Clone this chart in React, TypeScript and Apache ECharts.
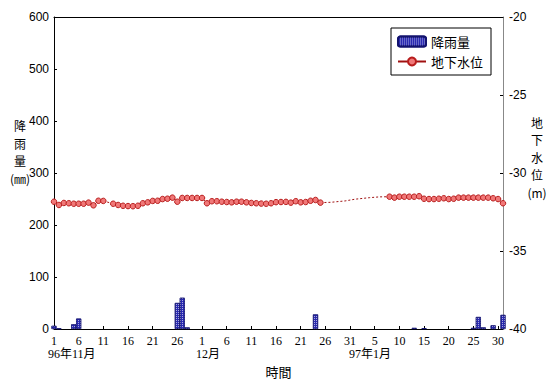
import React, { useEffect, useRef } from 'react';
import * as echarts from 'echarts';

// Day index: 0 = 1996-11-01 ... 91 = 1997-01-31
const rainDays = [0, 1, 4, 5, 25, 26, 27, 53, 73, 75, 85, 86, 87, 89, 91];
const rainValues = [6, 1, 9, 20, 50, 60, 3, 28, 2, 1.5, 2, 23, 3, 7, 27];

const gwLevel: (number | null)[] = [
  -31.84, -32.05, -31.92, -31.94, -31.97, -31.97, -31.97, -31.9, -32.07, -31.78,
  -31.79, null, -31.97, -32.05, -32.1, -32.12, -32.13, -32.1, -31.94, -31.88,
  -31.79, -31.78, -31.67, -31.65, -31.58, -31.84, -31.6, -31.6, -31.6, -31.6,
  -31.6, -31.94, -31.81, -31.81, -31.84, -31.86, -31.88, -31.84, -31.84, -31.88,
  -31.92, -31.94, -31.96, -31.97, -31.94, -31.87, -31.86, -31.85, -31.9, -31.81,
  -31.88, -31.86, -31.78, -31.73, -31.9,
  null, null, null, null, null, null, null, null, null, null, null, null, null,
  -31.52, -31.58, -31.52, -31.52, -31.52, -31.52, -31.49, -31.65, -31.67, -31.67,
  -31.65, -31.62, -31.67, -31.65, -31.58, -31.58, -31.58, -31.58, -31.58, -31.58,
  -31.58, -31.62, -31.67, -31.94,
];

const shortGapDays = [10, 12];
const shortGapLevels = [-31.79, -31.97];
const longGapDays = [54, 56, 59, 61, 64, 66, 68];
const longGapLevels = [-31.9, -31.88, -31.79, -31.68, -31.58, -31.53, -31.52];

const monthLabelDays = [0, 30, 61];
const monthLabelTexts = ['96年11月', '12月', '97年1月'];

const leftAxisNameLines = ['降', '雨', '量', '(㎜)'];
const rightAxisNameLines = ['地', '下', '水', '位', '(m)'];

const CJK = '"Noto Sans CJK TC", "Noto Sans CJK JP", sans-serif';
const SERIF = '"Liberation Serif", "DejaVu Serif", serif';
const SANS = '"Liberation Sans", Arial, sans-serif';

function dayLabel(d: number): string {
  if (d < 30) return String(d + 1);
  if (d < 61) return String(d - 29);
  return String(d - 60);
}

export default function App() {
  const ref = useRef<HTMLDivElement>(null);
  useEffect(() => {
    if (!ref.current) return;
    const chart = echarts.init(ref.current, null, { renderer: 'svg' });
    const option: any = {
      animation: false,
      backgroundColor: '#fff',
      grid: { left: 54, right: 46, top: 17, bottom: 56 },
      legend: {
        orient: 'vertical',
        left: 391,
        top: 28,
        data: ['降雨量', '地下水位'],
        borderColor: '#000',
        borderWidth: 1,
        backgroundColor: '#fff',
        padding: [7, 8, 7, 6],
        itemGap: 7,
        itemWidth: 28,
        itemHeight: 10,
        textStyle: { fontFamily: CJK, fontSize: 13, color: '#000' },
      },
      xAxis: [
        {
          type: 'value',
          min: 0,
          max: 91,
          interval: 5,
          position: 'bottom',
          axisLine: { show: true, onZero: false, lineStyle: { color: '#000' } },
          axisTick: { show: true, inside: true, length: 3, lineStyle: { color: '#000' } },
          axisLabel: {
            formatter: (v: number) => dayLabel(v),
            showMaxLabel: false,
            margin: 6,
            fontFamily: SERIF,
            fontSize: 12,
            color: '#000',
          },
          splitLine: { show: false },
          name: '時間',
          nameLocation: 'middle',
          nameGap: 36,
          nameTextStyle: { fontFamily: CJK, fontSize: 13, color: '#000' },
        },
        {
          type: 'value',
          min: 0,
          max: 91,
          position: 'top',
          axisLine: { show: true, onZero: false, lineStyle: { color: '#000' } },
          axisTick: { show: false },
          axisLabel: { show: false },
          splitLine: { show: false },
        },
      ],
      yAxis: [
        {
          type: 'value',
          min: 0,
          max: 600,
          interval: 100,
          position: 'left',
          axisLine: { show: true, onZero: false, lineStyle: { color: '#000' } },
          axisTick: { show: true, inside: true, length: 3, lineStyle: { color: '#000' } },
          axisLabel: { margin: 5, fontFamily: SANS, fontSize: 12, color: '#000' },
          splitLine: { show: false },
        },
        {
          type: 'value',
          min: -40,
          max: -20,
          interval: 5,
          position: 'right',
          axisLine: { show: true, onZero: false, lineStyle: { color: '#888' } },
          axisTick: { show: true, inside: true, length: 3, lineStyle: { color: '#000' } },
          axisLabel: { margin: 6, fontFamily: SANS, fontSize: 12, color: '#000' },
          splitLine: { show: false },
        },
      ],
      series: [
        {
          name: '降雨量',
          type: 'bar',
          xAxisIndex: 0,
          yAxisIndex: 0,
          barWidth: 5,
          data: rainDays.map((d, i) => [d, rainValues[i]]),
          itemStyle: {
            color: '#2a2ab0',
            borderColor: '#12126e',
            borderWidth: 0.6,
            decal: {
              symbol: 'rect',
              symbolSize: 1,
              dashArrayX: [1, 1],
              dashArrayY: [1, 1],
              rotation: 0,
              color: 'rgba(255,255,255,0.6)',
            },
          },
        },
        {
          name: '地下水位',
          type: 'line',
          xAxisIndex: 0,
          yAxisIndex: 1,
          data: gwLevel.map((v, i) => [i, v === null ? '-' : v]),
          connectNulls: false,
          symbol: 'circle',
          symbolSize: 5.5,
          showSymbol: true,
          itemStyle: { color: '#f07878', borderColor: '#b81c1c', borderWidth: 1 },
          lineStyle: { color: '#a01010', width: 1 },
          z: 4,
        },
        {
          name: 'gapA',
          type: 'line',
          xAxisIndex: 0,
          yAxisIndex: 1,
          data: shortGapDays.map((d, i) => [d, shortGapLevels[i]]),
          symbol: 'none',
          silent: true,
          lineStyle: { color: '#a01010', width: 1, type: [2, 2] },
          z: 3,
        },
        {
          name: 'gapB',
          type: 'line',
          xAxisIndex: 0,
          yAxisIndex: 1,
          data: longGapDays.map((d, i) => [d, longGapLevels[i]]),
          symbol: 'none',
          silent: true,
          lineStyle: { color: '#a01010', width: 1, type: [2, 2] },
          z: 3,
        },
      ],
    };
    chart.setOption(option);

    const yBottom = chart.convertToPixel({ yAxisIndex: 0 }, 0) as number;
    const monthGraphics = monthLabelDays.map((d, i) => {
      const px = chart.convertToPixel({ xAxisIndex: 0 }, d) as number;
      return {
        type: 'text',
        x: px - 6,
        y: yBottom + 19,
        style: {
          text: monthLabelTexts[i],
          font: `12px ${SERIF.split(',')[0]}, ${CJK}`,
          fill: '#000',
          textAlign: 'left',
          textVerticalAlign: 'top',
        },
      };
    });
    const STEP = 17.5;
    const nameText = (text: string, x: number, y: number) => ({
      type: 'text',
      x,
      y,
      style: {
        text,
        font: `12px ${CJK}`,
        fill: '#000',
        textAlign: 'center',
        textVerticalAlign: 'middle',
      },
    });
    const leftTop = 152 - ((leftAxisNameLines.length - 1) * STEP) / 2;
    const rightTop = 157 - ((rightAxisNameLines.length - 1) * STEP) / 2;
    chart.setOption({
      graphic: [
        ...monthGraphics,
        ...leftAxisNameLines.map((t, i) => nameText(t, 20, leftTop + i * STEP)),
        ...rightAxisNameLines.map((t, i) => nameText(t, 537, rightTop + i * STEP)),
      ],
    });
    return () => chart.dispose();
  }, []);
  return (
    <div
      ref={ref}
      style={{ position: 'fixed', left: 0, top: 0, width: 549, height: 385 }}
    />
  );
}
